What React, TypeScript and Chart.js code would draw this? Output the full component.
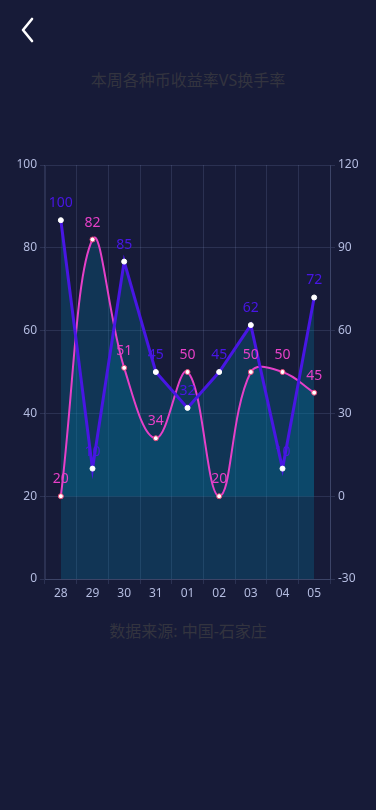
import React, { useEffect, useRef } from "react";
import { Chart, registerables } from "chart.js";

Chart.register(...registerables);

const categories = ["28", "29", "30", "31", "01", "02", "03", "04", "05"];
const turnoverValues = [20, 82, 51, 34, 50, 20, 50, 50, 45];
const returnValues = [100, 10, 85, 45, 32, 45, 62, 10, 72];
const leftTicks = [0, 20, 40, 60, 80, 100];
const rightTicks = [-30, 0, 30, 60, 90, 120];

const PINK = "rgb(230,64,200)";
const BLUE = "rgb(72,22,228)";
const FILL = "rgba(0,130,170,0.25)";
const GRID = "rgba(150,170,220,0.16)";
const TICK_COLOR = "#b4bce0";
const FONT = "'Noto Sans', 'Noto Sans CJK SC', sans-serif";

const labelPlugin = {
  id: "pointLabels",
  afterDatasetsDraw(chart: any) {
    const ctx = chart.ctx;
    ctx.save();
    ctx.font = `14px ${FONT}`;
    ctx.textAlign = "center";
    ctx.textBaseline = "middle";
    chart.data.datasets.forEach((ds: any, i: number) => {
      const meta = chart.getDatasetMeta(i);
      ctx.fillStyle = ds.labelColor;
      meta.data.forEach((pt: any, j: number) => {
        ctx.fillText(String(ds.data[j]), pt.x, pt.y - 17);
      });
    });
    ctx.restore();
  },
};

function ChartView() {
  const ref = useRef<HTMLCanvasElement>(null);
  useEffect(() => {
    if (!ref.current) return;
    const chart = new Chart(ref.current, {
      type: "line",
      data: {
        labels: categories,
        datasets: [
          {
            label: "换手率",
            data: returnValues,
            yAxisID: "y1",
            borderColor: BLUE,
            borderWidth: 3,
            tension: 0,
            fill: "origin",
            backgroundColor: FILL,
            pointRadius: 2.5,
            pointBackgroundColor: "#ffffff",
            pointBorderColor: "#ffffff",
            pointBorderWidth: 1,
            labelColor: BLUE,
          } as any,
          {
            label: "收益率",
            data: turnoverValues,
            yAxisID: "y",
            borderColor: PINK,
            borderWidth: 2,
            tension: 0.4,
            fill: "origin",
            backgroundColor: FILL,
            pointRadius: 2.5,
            pointBackgroundColor: "#ffffff",
            pointBorderColor: "rgb(230,70,120)",
            pointBorderWidth: 1,
            labelColor: PINK,
          } as any,
        ],
      },
      options: {
        animation: false,
        responsive: false,
        maintainAspectRatio: false,
        layout: { padding: { top: 15, left: 0, right: 0, bottom: 0 } },
        plugins: {
          legend: { display: false },
          tooltip: { enabled: false },
          filler: { drawTime: "beforeDatasetsDraw" },
        },
        scales: {
          x: {
            offset: true,
            grid: { offset: true, color: GRID, tickLength: 5 },
            border: { color: GRID },
            ticks: { color: TICK_COLOR, font: { size: 12, family: FONT }, padding: 2 },
            afterFit: (s: any) => { s.height = 21; },
          },
          y: {
            position: "left",
            min: 0,
            max: 100,
            afterBuildTicks: (s: any) => { s.ticks = leftTicks.map((v) => ({ value: v })); },
            grid: { color: GRID, tickLength: 5 },
            border: { color: GRID },
            ticks: { color: TICK_COLOR, font: { size: 12, family: FONT }, padding: 3 },
            afterFit: (s: any) => { s.width = 45; },
          },
          y1: {
            position: "right",
            min: -30,
            max: 120,
            afterBuildTicks: (s: any) => { s.ticks = rightTicks.map((v) => ({ value: v })); },
            grid: { drawOnChartArea: false, color: GRID, tickLength: 5 },
            border: { color: GRID },
            ticks: { color: TICK_COLOR, font: { size: 12, family: FONT }, padding: 3 },
            afterFit: (s: any) => { s.width = 46; },
          },
        },
      },
      plugins: [labelPlugin],
    } as any);
    return () => chart.destroy();
  }, []);
  return (
    <canvas
      ref={ref}
      width={376}
      height={450}
      style={{ position: "absolute", left: 0, top: 150, width: 376, height: 450 }}
    />
  );
}

export default function App() {
  return (
    <div
      style={{
        position: "fixed",
        left: 0,
        top: 0,
        width: 376,
        height: 810,
        background: "#171b38",
        fontFamily: FONT,
        overflow: "hidden",
      }}
    >
      <svg
        width={20}
        height={26}
        style={{ position: "absolute", left: 18, top: 17 }}
        viewBox="0 0 20 26"
      >
        <polyline
          points="14,2 5,13 14,24"
          fill="none"
          stroke="#ffffff"
          strokeWidth={2.6}
          strokeLinecap="round"
          strokeLinejoin="round"
        />
      </svg>
      <div
        style={{
          position: "absolute",
          left: 0,
          width: 376,
          top: 68,
          textAlign: "center",
          fontSize: 16,
          lineHeight: "24px",
          color: "#33343f",
        }}
      >
        本周各种币收益率VS换手率
      </div>
      <ChartView />
      <div
        style={{
          position: "absolute",
          left: 0,
          width: 376,
          top: 619,
          textAlign: "center",
          fontSize: 16,
          lineHeight: "24px",
          color: "#33343f",
        }}
      >
        数据来源: 中国-石家庄
      </div>
    </div>
  );
}
